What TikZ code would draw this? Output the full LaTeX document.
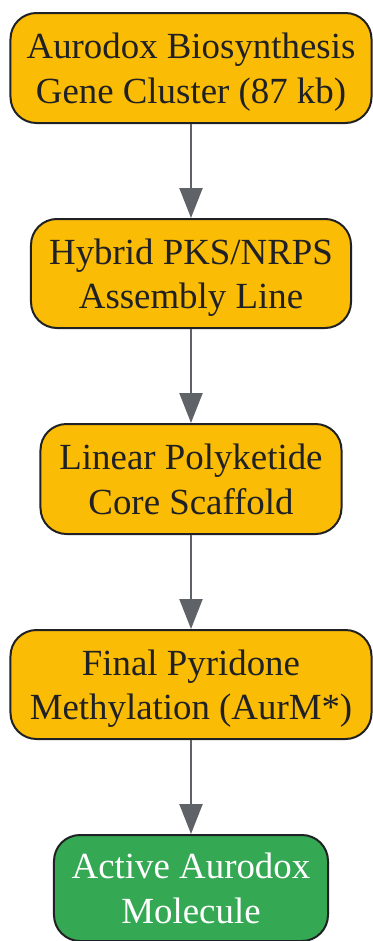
\documentclass[tikz,border=0pt]{standalone}
\usepackage{fontspec}
\setmainfont{Liberation Serif}
\usetikzlibrary{arrows.meta}
\definecolor{stepyellow}{HTML}{FBBC05}
\definecolor{stepgreen}{HTML}{34A853}
\definecolor{edgegray}{HTML}{5F6368}
\definecolor{inkdark}{HTML}{202124}
\tikzset{
  stepbox/.style={draw=inkdark, line width=2bp, rounded corners=26bp, fill=stepyellow,
    text=inkdark, align=center, inner sep=0pt, text depth=0pt,
    font=\fontsize{37}{44.7}\selectfont},
  donebox/.style={stepbox, fill=stepgreen, text=white},
  flow/.style={draw=edgegray, line width=2.2bp, -{Triangle[length=30bp,width=23bp]}}
}
\begin{document}
\begin{tikzpicture}[x=1bp, y=-1bp]
    \useasboundingbox (0, 0) rectangle (372, 941) ;
    \node[stepbox, minimum width=361bp, minimum height=110bp] (cluster) at (191, 68) {Aurodox Biosynthesis\\Gene Cluster (87 kb)} ;
    \node[stepbox, minimum width=320bp, minimum height=109bp] (pksnrps) at (191, 273.5) {Hybrid PKS/NRPS\\Assembly Line} ;
    \node[stepbox, minimum width=301bp, minimum height=110bp] (scaffold) at (191, 479) {Linear Polyketide\\Core Scaffold} ;
    \node[stepbox, minimum width=361bp, minimum height=109bp] (methyl) at (191, 684.5) {Final Pyridone\\Methylation (AurM*)} ;
    \node[donebox, minimum width=274bp, minimum height=106bp] (aurodox) at (191, 888) {Active Aurodox\\Molecule} ;
    % connectors
    \draw[flow] (cluster) -- (pksnrps) ;
    \draw[flow] (pksnrps) -- (scaffold) ;
    \draw[flow] (scaffold) -- (methyl) ;
    \draw[flow] (methyl) -- (aurodox) ;
  \end{tikzpicture}
\end{document}
